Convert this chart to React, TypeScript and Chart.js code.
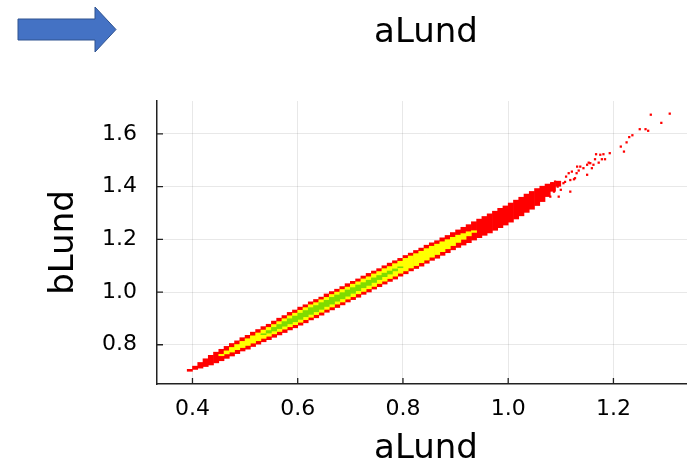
import React, { useEffect, useRef } from 'react';
import { Chart, registerables } from 'chart.js';

Chart.register(...registerables);

// ---- data ----
const titleText = 'aLund';
const xAxisLabel = 'aLund';
const yAxisLabel = 'bLund';
const xTicks = [0.4, 0.6, 0.8, 1.0, 1.2];
const yTicks = [0.8, 1.0, 1.2, 1.4, 1.6];

// red (outer) band: bin centres and vertical extent
const redX = [0.395, 0.405, 0.415, 0.425, 0.435, 0.445, 0.455, 0.465, 0.475, 0.485, 0.495, 0.505, 0.515, 0.525, 0.535, 0.545, 0.555, 0.565, 0.575, 0.585, 0.595, 0.605, 0.615, 0.625, 0.635, 0.645, 0.655, 0.665, 0.675, 0.685, 0.695, 0.705, 0.715, 0.725, 0.735, 0.745, 0.755, 0.765, 0.775, 0.785, 0.795, 0.805, 0.815, 0.825, 0.835, 0.845, 0.855, 0.865, 0.875, 0.885, 0.895, 0.905, 0.915, 0.925, 0.935, 0.945, 0.955, 0.965, 0.975, 0.985, 0.995, 1.005, 1.015, 1.025, 1.035, 1.045, 1.055, 1.065, 1.075, 1.085, 1.095];
const redLow = [0.698, 0.705, 0.710, 0.716, 0.722, 0.730, 0.738, 0.747, 0.756, 0.765, 0.775, 0.782, 0.792, 0.801, 0.810, 0.818, 0.827, 0.836, 0.845, 0.855, 0.863, 0.873, 0.882, 0.893, 0.901, 0.911, 0.922, 0.931, 0.940, 0.950, 0.961, 0.970, 0.979, 0.990, 0.999, 1.010, 1.019, 1.029, 1.039, 1.048, 1.059, 1.068, 1.079, 1.088, 1.097, 1.108, 1.119, 1.127, 1.138, 1.148, 1.159, 1.168, 1.177, 1.186, 1.196, 1.205, 1.214, 1.223, 1.233, 1.243, 1.253, 1.264, 1.276, 1.288, 1.301, 1.313, 1.327, 1.342, 1.361, 1.381, 1.400];
const redHigh = [0.708, 0.720, 0.734, 0.748, 0.761, 0.773, 0.784, 0.795, 0.806, 0.816, 0.828, 0.837, 0.849, 0.859, 0.870, 0.879, 0.891, 0.902, 0.912, 0.924, 0.933, 0.944, 0.953, 0.964, 0.973, 0.982, 0.994, 1.003, 1.012, 1.022, 1.033, 1.042, 1.051, 1.062, 1.072, 1.081, 1.090, 1.101, 1.111, 1.120, 1.129, 1.140, 1.149, 1.159, 1.168, 1.179, 1.188, 1.196, 1.207, 1.216, 1.227, 1.237, 1.247, 1.257, 1.268, 1.278, 1.288, 1.298, 1.308, 1.319, 1.328, 1.339, 1.350, 1.361, 1.373, 1.383, 1.394, 1.403, 1.411, 1.417, 1.422];

// yellow (middle) band
const yellowX = [0.455, 0.465, 0.475, 0.485, 0.495, 0.505, 0.515, 0.525, 0.535, 0.545, 0.555, 0.565, 0.575, 0.585, 0.595, 0.605, 0.615, 0.625, 0.635, 0.645, 0.655, 0.665, 0.675, 0.685, 0.695, 0.705, 0.715, 0.725, 0.735, 0.745, 0.755, 0.765, 0.775, 0.785, 0.795, 0.805, 0.815, 0.825, 0.835, 0.845, 0.855, 0.865, 0.875, 0.885, 0.895, 0.905, 0.915, 0.925, 0.935];
const yellowLow = [0.757, 0.764, 0.771, 0.780, 0.788, 0.796, 0.805, 0.814, 0.823, 0.831, 0.840, 0.849, 0.858, 0.867, 0.875, 0.884, 0.894, 0.903, 0.913, 0.922, 0.933, 0.942, 0.953, 0.961, 0.972, 0.981, 0.992, 1.001, 1.011, 1.020, 1.031, 1.040, 1.050, 1.059, 1.070, 1.079, 1.090, 1.099, 1.110, 1.120, 1.131, 1.141, 1.152, 1.163, 1.175, 1.187, 1.199, 1.212, 1.225];
const yellowHigh = [0.765, 0.778, 0.791, 0.802, 0.814, 0.824, 0.835, 0.846, 0.857, 0.867, 0.878, 0.889, 0.900, 0.911, 0.921, 0.932, 0.942, 0.953, 0.961, 0.972, 0.981, 0.992, 1.001, 1.011, 1.020, 1.031, 1.040, 1.051, 1.059, 1.070, 1.079, 1.090, 1.098, 1.109, 1.118, 1.129, 1.138, 1.147, 1.156, 1.166, 1.175, 1.183, 1.192, 1.200, 1.209, 1.217, 1.223, 1.230, 1.234];

// green (inner) band
const greenX = [0.535, 0.545, 0.555, 0.565, 0.575, 0.585, 0.595, 0.605, 0.615, 0.625, 0.635, 0.645, 0.655, 0.665, 0.675, 0.685, 0.695, 0.705, 0.715, 0.725, 0.735, 0.745, 0.755, 0.765, 0.775, 0.785, 0.795];
const greenLow = [0.837, 0.843, 0.851, 0.860, 0.869, 0.878, 0.886, 0.895, 0.905, 0.914, 0.924, 0.933, 0.944, 0.953, 0.964, 0.973, 0.983, 0.994, 1.004, 1.015, 1.024, 1.035, 1.046, 1.057, 1.067, 1.079, 1.091];
const greenHigh = [0.843, 0.855, 0.867, 0.878, 0.889, 0.900, 0.910, 0.921, 0.931, 0.942, 0.950, 0.961, 0.970, 0.981, 0.990, 0.999, 1.009, 1.018, 1.028, 1.037, 1.046, 1.055, 1.064, 1.073, 1.081, 1.089, 1.097];

// isolated red cells beyond the dense band
const outlierX = [1.080, 1.084, 1.087, 1.089, 1.094, 1.096, 1.098, 1.100, 1.105, 1.108, 1.110, 1.115, 1.118, 1.118, 1.121, 1.125, 1.127, 1.130, 1.131, 1.134, 1.137, 1.143, 1.150, 1.150, 1.153, 1.156, 1.159, 1.162, 1.165, 1.167, 1.172, 1.175, 1.178, 1.181, 1.184, 1.193, 1.214, 1.220, 1.225, 1.230, 1.236, 1.250, 1.261, 1.266, 1.271, 1.291, 1.307];
const outlierY = [1.362, 1.413, 1.381, 1.419, 1.400, 1.362, 1.407, 1.388, 1.413, 1.418, 1.438, 1.451, 1.381, 1.425, 1.457, 1.428, 1.432, 1.451, 1.476, 1.461, 1.476, 1.470, 1.445, 1.483, 1.491, 1.489, 1.470, 1.483, 1.504, 1.523, 1.491, 1.521, 1.504, 1.523, 1.504, 1.527, 1.552, 1.533, 1.568, 1.588, 1.595, 1.618, 1.618, 1.612, 1.673, 1.642, 1.677];

const X_MIN = 0.3326;
const X_MAX = 1.355;
const Y_MIN = 0.651;
const Y_MAX = 1.725;

const RED = '#ff0000';
const YELLOW = '#ffff00';
const GREEN = '#7fdb00';
const FONT = 'DejaVu Sans';

const innerTicks = {
  id: 'innerTicks',
  afterDatasetsDraw(chart: any) {
    const { ctx, chartArea, scales } = chart;
    ctx.save();
    ctx.strokeStyle = '#222';
    ctx.lineWidth = 1.3;
    ctx.beginPath();
    xTicks.forEach((v) => {
      const px = scales.x.getPixelForValue(v);
      ctx.moveTo(px, chartArea.bottom);
      ctx.lineTo(px, chartArea.bottom - 6);
    });
    yTicks.forEach((v) => {
      const py = scales.y.getPixelForValue(v);
      ctx.moveTo(chartArea.left, py);
      ctx.lineTo(chartArea.left + 6, py);
    });
    ctx.stroke();
    ctx.restore();
  },
};

const toBars = (xs: number[], lo: number[], hi: number[]) =>
  xs.map((x, i) => ({ x, y: [lo[i], hi[i]] }));

export default function App() {
  const canvasRef = useRef<HTMLCanvasElement | null>(null);

  useEffect(() => {
    if (!canvasRef.current) return;
    const barCommon = {
      type: 'bar' as const,
      grouped: false,
      barPercentage: 1.12,
      categoryPercentage: 1,
      borderWidth: 0,
    };
    const chart = new Chart(canvasRef.current, {
      type: 'bar',
      data: {
        datasets: [
          { ...barCommon, label: 'green', data: toBars(greenX, greenLow, greenHigh) as any, backgroundColor: GREEN, order: 1 },
          { ...barCommon, label: 'yellow', data: toBars(yellowX, yellowLow, yellowHigh) as any, backgroundColor: YELLOW, order: 2 },
          { ...barCommon, label: 'red', data: toBars(redX, redLow, redHigh) as any, backgroundColor: RED, order: 3 },
          {
            type: 'scatter' as const,
            label: 'outliers',
            data: outlierX.map((x, i) => ({ x, y: outlierY[i] })) as any,
            backgroundColor: RED,
            borderWidth: 0,
            pointStyle: 'rect',
            radius: 1.6,
            order: 4,
          } as any,
        ],
      },
      options: {
        responsive: false,
        animation: false,
        devicePixelRatio: 1,
        layout: { padding: 0 },
        plugins: {
          legend: { display: false },
          tooltip: { enabled: false },
          title: {
            display: true,
            text: titleText,
            fullSize: false,
            color: '#000',
            font: { family: FONT, size: 34, weight: 'normal', lineHeight: 1.2 },
            padding: { top: 12.6, bottom: 47.6 },
          },
        },
        scales: {
          x: {
            type: 'linear',
            min: X_MIN,
            max: X_MAX,
            offset: false,
            afterBuildTicks: (scale: any) => {
              scale.ticks = xTicks.map((v) => ({ value: v }));
            },
            afterFit: (scale: any) => {
              scale.height = 82;
            },
            ticks: {
              padding: 12,
              color: '#000',
              font: { family: FONT, size: 22 },
              callback: (v: any) => Number(v).toFixed(1),
            },
            grid: { color: 'rgba(0,0,0,0.09)', lineWidth: 1, drawTicks: false, offset: false },
            border: { display: true, color: '#222', width: 1.5 },
            title: {
              display: true,
              text: xAxisLabel,
              color: '#000',
              font: { family: FONT, size: 34, lineHeight: 1 },
              padding: { top: 0, bottom: 0 },
            },
          },
          y: {
            type: 'linear',
            min: Y_MIN,
            max: Y_MAX,
            afterBuildTicks: (scale: any) => {
              scale.ticks = yTicks.map((v) => ({ value: v }));
            },
            afterFit: (scale: any) => {
              scale.width = 157;
            },
            ticks: {
              padding: 20,
              color: '#000',
              font: { family: FONT, size: 22 },
              callback: (v: any) => Number(v).toFixed(1),
            },
            grid: { color: 'rgba(0,0,0,0.09)', lineWidth: 1, drawTicks: false },
            border: { display: true, color: '#222', width: 1.5 },
            title: {
              display: true,
              text: yAxisLabel,
              color: '#000',
              font: { family: FONT, size: 34, lineHeight: 1 },
              padding: { top: 46.7, bottom: 0 },
            },
          },
        },
      },
      plugins: [innerTicks],
    } as any);
    return () => chart.destroy();
  }, []);

  return (
    <div
      style={{
        position: 'absolute',
        left: 0,
        top: 0,
        width: 687,
        height: 466,
        overflow: 'hidden',
        background: '#fff',
      }}
    >
      <canvas ref={canvasRef} width={699} height={466} style={{ display: 'block' }} />
      <svg
        width={130}
        height={60}
        style={{ position: 'absolute', left: 0, top: 0 }}
      >
        <polygon
          points="18,19 95,19 95,7 116,29.5 95,52 95,40 18,40"
          fill="#4472c4"
          stroke="#2f528f"
          strokeWidth={1}
        />
      </svg>
    </div>
  );
}
